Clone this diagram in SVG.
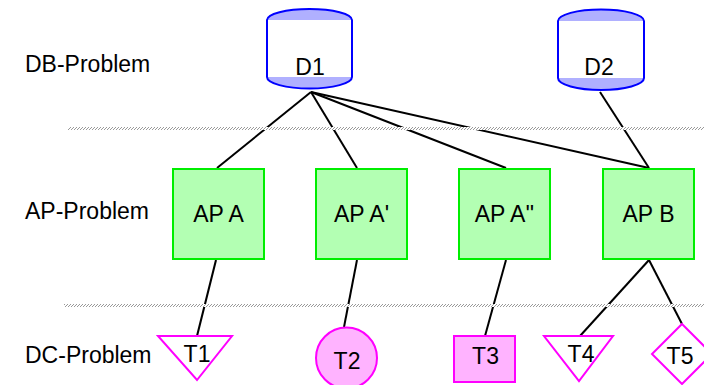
<svg xmlns="http://www.w3.org/2000/svg" width="704" height="385" viewBox="0 0 704 385">
<style>
  text { font-family: "Liberation Sans", Arial, sans-serif; font-size: 23px; fill: #000; }
  .mid { text-anchor: middle; }
  .conn { stroke: #000; stroke-width: 2; fill: none; }
  .cap { fill: #b0b0ff; stroke: none; }
  .cyl { stroke: #0000ff; stroke-width: 2; fill: none; }
  .ap { fill: #b3ffb3; stroke: #00ee00; stroke-width: 2; }
  .dc { stroke: #ff00ff; stroke-width: 2; }
  .dcw { fill: #ffffff; }
  .dcp { fill: #ffb3ff; }
</style>
<defs>
  <pattern id="hatch" width="3" height="3" patternUnits="userSpaceOnUse">
    <rect width="3" height="3" fill="#ffffff"/>
    <path d="M0,3 L3,0" stroke="#999" stroke-width="1"/>
  </pattern>
</defs>
<rect width="704" height="385" fill="#ffffff"/>

<g id="labels">
  <text x="25" y="72">DB-Problem</text>
  <text x="25" y="219">AP-Problem</text>
  <text x="25" y="363">DC-Problem</text>
</g>

<g id="connectors">
  <line class="conn" x1="311" y1="92" x2="217" y2="168"/>
  <line class="conn" x1="311" y1="92" x2="357" y2="168"/>
  <line class="conn" x1="311" y1="92" x2="506" y2="168"/>
  <line class="conn" x1="311" y1="92" x2="649" y2="168"/>
  <line class="conn" x1="600" y1="92" x2="649" y2="168"/>
  <line class="conn" x1="216" y1="260" x2="197" y2="336"/>
  <line class="conn" x1="357" y1="260" x2="344" y2="327"/>
  <line class="conn" x1="506" y1="260" x2="485" y2="336"/>
  <line class="conn" x1="649" y1="260" x2="580" y2="336"/>
  <line class="conn" x1="649" y1="260" x2="682" y2="324"/>
</g>

<g id="separators">
  <rect x="68" y="127" width="636" height="3" fill="url(#hatch)"/>
  <rect x="64" y="304" width="640" height="3" fill="url(#hatch)"/>
</g>

<g id="D1">
  <path class="cap" d="M267,20 A42.5,11 0 0 1 352,20 Z"/>
  <path class="cap" d="M267,77 A42.5,11.5 0 0 0 352,77 Z"/>
  <path class="cyl" d="M267,77 L267,20 A42.5,11 0 0 1 352,20 L352,77"/>
  <path class="cyl" d="M267,77 A42.5,11.5 0 0 0 352,77"/>
  <text class="mid" x="310" y="75">D1</text>
</g>
<g id="D2">
  <path class="cap" d="M558,21 A43,11.5 0 0 1 644,21 Z"/>
  <path class="cap" d="M558,78 A43,12 0 0 0 644,78 Z"/>
  <path class="cyl" d="M558,78 L558,21 A43,11.5 0 0 1 644,21 L644,78"/>
  <path class="cyl" d="M558,78 A43,12 0 0 0 644,78"/>
  <text class="mid" x="599" y="75">D2</text>
</g>

<g id="APA">
  <rect class="ap" x="173" y="169" width="91" height="90"/>
  <text class="mid" x="218.5" y="222">AP A</text>
</g>
<g id="APA1">
  <rect class="ap" x="316" y="169" width="91" height="90"/>
  <text class="mid" x="361.5" y="222">AP A'</text>
</g>
<g id="APA2">
  <rect class="ap" x="459" y="169" width="91" height="90"/>
  <text class="mid" x="504.5" y="222">AP A''</text>
</g>
<g id="APB">
  <rect class="ap" x="603" y="169" width="91" height="90"/>
  <text class="mid" x="648.5" y="222">AP B</text>
</g>

<g id="T1">
  <polygon class="dc dcw" points="158,336 232,336 197,380"/>
  <text class="mid" x="197" y="362">T1</text>
</g>
<g id="T2">
  <circle class="dc dcp" cx="346.5" cy="358" r="30.5"/>
  <text class="mid" x="347" y="369">T2</text>
</g>
<g id="T3">
  <rect class="dc dcp" x="454" y="336" width="61" height="46"/>
  <text class="mid" x="485.5" y="364">T3</text>
</g>
<g id="T4">
  <polygon class="dc dcw" points="544,336 613,336 579,381"/>
  <text class="mid" x="581" y="362">T4</text>
</g>
<g id="T5">
  <polygon class="dc dcw" points="682,324 712,354 682,384 652,354"/>
  <text class="mid" x="680" y="364">T5</text>
</g>
</svg>
